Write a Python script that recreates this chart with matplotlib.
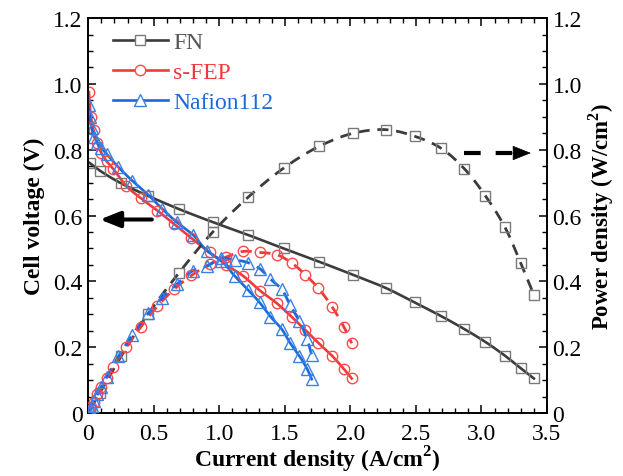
import numpy as np
import matplotlib
matplotlib.use("Agg")
import matplotlib.pyplot as plt
from matplotlib.ticker import MultipleLocator, FuncFormatter

plt.rcParams['font.family'] = ['Liberation Serif', 'DejaVu Serif']
plt.rcParams['mathtext.fontset'] = 'custom'
plt.rcParams['mathtext.rm'] = 'Liberation Serif'
plt.rcParams['mathtext.bf'] = 'Liberation Serif:bold'

# ---- data -------------------------------------------------------------
series_names = ["FN", "s-FEP", "Nafion112"]

fn_current = [0.01, 0.09, 0.25, 0.455, 0.69, 0.95, 1.22, 1.49, 1.76, 2.02,
              2.27, 2.49, 2.69, 2.87, 3.03, 3.18, 3.30, 3.40]
fn_voltage = [0.76, 0.736, 0.698, 0.66, 0.62, 0.58, 0.541, 0.50, 0.46, 0.42,
              0.38, 0.336, 0.295, 0.255, 0.216, 0.174, 0.136, 0.105]
fn_power = [0.008, 0.062, 0.172, 0.30, 0.425, 0.55, 0.656, 0.744, 0.81, 0.85,
            0.861, 0.841, 0.805, 0.742, 0.66, 0.564, 0.455, 0.359]

sfep_current = [0.005, 0.02, 0.04, 0.07, 0.10, 0.14, 0.19, 0.29, 0.40, 0.528,
                0.655, 0.787, 0.926, 1.053, 1.18, 1.31, 1.44, 1.555, 1.657,
                1.756, 1.86, 1.95, 2.01]
sfep_voltage = [0.975, 0.90, 0.86, 0.82, 0.79, 0.765, 0.742, 0.69, 0.653, 0.615,
                0.574, 0.531, 0.488, 0.45, 0.417, 0.372, 0.333, 0.291, 0.252,
                0.213, 0.174, 0.134, 0.105]
sfep_power = [0.005, 0.018, 0.034, 0.057, 0.079, 0.107, 0.141, 0.200, 0.261,
              0.325, 0.376, 0.418, 0.452, 0.474, 0.491, 0.488, 0.481, 0.455,
              0.42, 0.379, 0.323, 0.262, 0.212]

naf_current = [0.003, 0.01, 0.025, 0.045, 0.07, 0.10, 0.14, 0.23, 0.335, 0.457,
               0.565, 0.675, 0.80, 0.905, 1.015, 1.116, 1.218, 1.307, 1.39,
               1.476, 1.54, 1.61, 1.67, 1.705]
naf_voltage = [0.935, 0.90, 0.865, 0.84, 0.82, 0.805, 0.787, 0.747, 0.706, 0.663,
               0.62, 0.58, 0.541, 0.493, 0.463, 0.417, 0.375, 0.336, 0.293,
               0.255, 0.213, 0.174, 0.134, 0.103]
naf_power = [0.003, 0.009, 0.022, 0.038, 0.057, 0.08, 0.11, 0.172, 0.236, 0.303,
             0.35, 0.391, 0.433, 0.446, 0.47, 0.466, 0.457, 0.439, 0.407, 0.376,
             0.328, 0.28, 0.224, 0.176]

x_ticks = [0, 0.5, 1.0, 1.5, 2.0, 2.5, 3.0, 3.5]
y_ticks = [0, 0.2, 0.4, 0.6, 0.8, 1.0, 1.2]

line_colors = ["#3c3c3c", "#f03a3a", "#1c6ad8"]
marker_colors = ["#7a7a7a", "#ff4a4a", "#3a80e6"]
text_colors = ["#555555", "#f03a3a", "#1c6ad8"]
markers = ["s", "o", "^"]


def smooth(x, y, n=16, sx=3.5, sy=1.2):
    """Centripetal Catmull-Rom curve through the given points."""
    p = np.column_stack([np.asarray(x, float) / sx, np.asarray(y, float) / sy])
    p = np.vstack([2 * p[0] - p[1], p, 2 * p[-1] - p[-2]])
    out = []
    for i in range(1, len(p) - 2):
        p0, p1, p2, p3 = p[i - 1], p[i], p[i + 1], p[i + 2]
        t0 = 0.0
        t1 = t0 + np.linalg.norm(p1 - p0) ** 0.5 + 1e-9
        t2 = t1 + np.linalg.norm(p2 - p1) ** 0.5 + 1e-9
        t3 = t2 + np.linalg.norm(p3 - p2) ** 0.5 + 1e-9
        t = np.linspace(t1, t2, n, endpoint=False)[:, None]
        a1 = (t1 - t) / (t1 - t0) * p0 + (t - t0) / (t1 - t0) * p1
        a2 = (t2 - t) / (t2 - t1) * p1 + (t - t1) / (t2 - t1) * p2
        a3 = (t3 - t) / (t3 - t2) * p2 + (t - t2) / (t3 - t2) * p3
        b1 = (t2 - t) / (t2 - t0) * a1 + (t - t0) / (t2 - t0) * a2
        b2 = (t3 - t) / (t3 - t1) * a2 + (t - t1) / (t3 - t1) * a3
        c = (t2 - t) / (t2 - t1) * b1 + (t - t1) / (t2 - t1) * b2
        out.append(c)
    out.append(p[-2][None, :])
    c = np.vstack(out)
    return c[:, 0] * sx, c[:, 1] * sy


fig = plt.figure(figsize=(6.23, 4.77), dpi=100)
fig.patch.set_facecolor("white")
ax = fig.add_axes([0.1417, 0.132, 0.7363, 0.828])
ax2 = ax.twinx()

currents = [fn_current, sfep_current, naf_current]
voltages = [fn_voltage, sfep_voltage, naf_voltage]
powers = [fn_power, sfep_power, naf_power]
msizes = [7, 7.5, 8]

handles = []
for i in range(3):
    sx_, sy_ = smooth(currents[i], voltages[i])
    ax.plot(sx_, sy_, color=line_colors[i], lw=1.9, zorder=3)
    ax.plot(currents[i], voltages[i], ls="none", marker=markers[i],
            ms=msizes[i], mfc="none", mec=marker_colors[i], mew=1.0, zorder=4)
    px_, py_ = smooth(currents[i], powers[i])
    ax2.plot(px_, py_, color=line_colors[i], lw=2.0, dashes=(4.0, 2.8), zorder=3)
    ax2.plot(currents[i], powers[i], ls="none", marker=markers[i],
             ms=msizes[i], mfc="none", mec=marker_colors[i], mew=1.0, zorder=4)
    h, = ax.plot([], [], color=line_colors[i], lw=1.9, marker=markers[i],
                 ms=msizes[i], mfc="white", mec=marker_colors[i], mew=1.0)
    handles.append(h)

fmt = FuncFormatter(lambda v, p: "0" if abs(v) < 1e-9 else f"{v:.1f}")
for a in (ax, ax2):
    a.set_xlim(0, 3.5)
    a.set_ylim(0, 1.2)
    a.set_yticks(y_ticks)
    a.yaxis.set_minor_locator(MultipleLocator(0.05))
    a.yaxis.set_major_formatter(fmt)

ax.set_xticks(x_ticks)
ax.xaxis.set_minor_locator(MultipleLocator(0.1))
ax.xaxis.set_major_formatter(fmt)

ax.tick_params(axis="both", which="major", direction="in", length=6, width=1.1,
               labelsize=17, top=True, pad=4)
ax.tick_params(axis="x", which="major", pad=7)
ax.tick_params(axis="both", which="minor", direction="in", length=3.5, width=1.0, top=True)
ax.tick_params(axis="y", which="both", right=False)
ax2.tick_params(axis="y", which="major", direction="in", length=6, width=1.1,
                labelsize=17, pad=4)
ax2.tick_params(axis="y", which="minor", direction="in", length=3.5, width=1.0)
for a in (ax, ax2):
    for s in a.spines.values():
        s.set_linewidth(1.2)

ax.set_xlabel(r"Current density (A/cm$^\mathbf{2}$)", fontsize=17, fontweight="bold", labelpad=0)
ax.set_ylabel("Cell voltage (V)", fontsize=17, fontweight="bold", labelpad=6)
ax2.set_ylabel(r"Power density (W/cm$^\mathbf{2}$)", fontsize=16.5, fontweight="bold", labelpad=3)

leg = ax.legend(handles, series_names, loc="upper left", bbox_to_anchor=(0.008, 1.02),
                frameon=False, fontsize=17, handlelength=2.3, handletextpad=0.25,
                labelspacing=0.36)
for t, c in zip(leg.get_texts(), text_colors):
    t.set_color(c)

head = "-|>,head_length=0.55,head_width=0.22"
# arrow pointing to the voltage axis
ax.annotate("", xy=(0.089, 0.588), xytext=(0.485, 0.588),
            arrowprops=dict(arrowstyle=head, mutation_scale=22,
                            color="black", lw=2.9, shrinkA=0, shrinkB=0))
# dashed arrow pointing to the power axis
ax2.plot([2.866, 3.232], [0.79, 0.79], color="black", lw=3.0, dashes=(4.0, 3.6),
         solid_capstyle="butt", dash_capstyle="butt")
ax2.annotate("", xy=(3.377, 0.79), xytext=(3.225, 0.79),
             arrowprops=dict(arrowstyle=head, mutation_scale=22,
                             color="black", lw=0.5, shrinkA=0, shrinkB=0))

fig.savefig("out.png", dpi=100, facecolor="white")
